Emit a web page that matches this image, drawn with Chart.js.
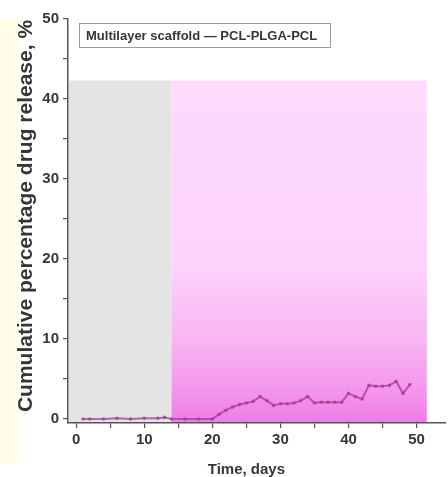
<!DOCTYPE html>
<html>
<head>
<meta charset="utf-8">
<title>Cumulative drug release</title>
<script src="https://cdn.jsdelivr.net/npm/chart.js@4.4.1/dist/chart.umd.min.js"></script>
<style>
  html, body { margin: 0; padding: 0; background: #ffffff; }
  #wrap { position: relative; width: 448px; height: 477px; }
  #strip { position: absolute; left: 0; top: 18px; width: 18px; height: 445px; background: #fffee9; }
  canvas { position: absolute; left: 0; top: 0; }
</style>
</head>
<body>
<div id="wrap">
  <div id="strip"></div>
  <canvas id="chart" width="448" height="477"></canvas>
</div>
<script>
// Release measurements (day, cumulative %)
const days = [1, 2, 4, 6, 8, 10, 12, 13, 14, 16, 18, 20, 21, 22, 23, 24, 25, 26, 27, 28, 29, 30,
              31, 32, 33, 34, 35, 36, 37, 38, 39, 40, 41, 42, 43, 44, 45, 46, 47, 48, 49];
const release = [0.0, 0.0, 0.0, 0.1, 0.0, 0.1, 0.1, 0.2, 0.0, 0.0, 0.0, 0.0, 0.6, 1.1, 1.5, 1.8, 2.0, 2.2, 2.8, 2.3, 1.7, 1.9,
                 1.9, 2.0, 2.3, 2.8, 2.0, 2.1, 2.1, 2.1, 2.1, 3.2, 2.8, 2.5, 4.2, 4.1, 4.1, 4.2, 4.7, 3.2, 4.3];
const seriesLabel = 'Multilayer scaffold \u2014 PCL-PLGA-PCL';

// Phase shading: first phase ends at day 14, second ends at day 51.5; both reach 42.3 %
const phaseBounds = [14, 51.5];
const phaseTop = 42.3;

// Axis ticks and titles
const xTicks = [0, 10, 20, 30, 40, 50];
const yTicks = [0, 10, 20, 30, 40, 50];
const xTitle = 'Time, days';
const yTitle = 'Cumulative percentage drug release, %';

const FONT = '"Liberation Sans", Arial, sans-serif';
const NARROW = '"Liberation Sans Narrow", "Liberation Sans", Arial, sans-serif';
const AXIS = '#555555';
const TEXT = '#363636';

function keepTicks(major) {
  const lo = major[0], hi = major[major.length - 1];
  return function (scale) {
    const out = [];
    for (let v = lo; v <= hi; v += 5) out.push({ value: v });
    scale.ticks = out;
  };
}

const phasePlugin = {
  id: 'phases',
  beforeDatasetsDraw(chart) {
    const { ctx, chartArea, scales } = chart;
    const xs = scales.x, ys = scales.y;
    const xa = chartArea.left + 1;
    const xb = xs.getPixelForValue(phaseBounds[0]);
    const xc = xs.getPixelForValue(phaseBounds[1]);
    const yt = ys.getPixelForValue(phaseTop);
    const yb = chartArea.bottom - 1;
    ctx.save();
    ctx.fillStyle = '#e4e4e4';
    ctx.fillRect(xa, yt, xb - xa, yb - yt);
    const g = ctx.createLinearGradient(0, yt, 0, yb);
    g.addColorStop(0, '#fddafd');
    g.addColorStop(0.55, '#fcd2fb');
    g.addColorStop(0.75, '#f8b6f3');
    g.addColorStop(0.9, '#f498ec');
    g.addColorStop(1, '#ee7ce6');
    ctx.fillStyle = g;
    ctx.fillRect(xb, yt, xc - xb, yb - yt);
    ctx.restore();
  },
  afterDraw(chart) {
    const { ctx, chartArea, scales } = chart;
    ctx.save();
    // legend box
    const lx = chartArea.left + 11, ly = chartArea.top + 4, lw = 251, lh = 24;
    ctx.fillStyle = '#ffffff';
    ctx.fillRect(lx, ly, lw, lh);
    ctx.strokeStyle = '#9a9a9a';
    ctx.lineWidth = 1;
    ctx.strokeRect(lx + 0.5, ly + 0.5, lw, lh);
    ctx.fillStyle = TEXT;
    ctx.font = 'bold 13px ' + FONT;
    ctx.textBaseline = 'middle';
    ctx.textAlign = 'left';
    ctx.fillText(seriesLabel, lx + 7, ly + lh / 2 + 1);
    // x axis title, centred over the labelled range
    const xs = scales.x, ys = scales.y;
    const cx = (xs.getPixelForValue(xTicks[0]) + xs.getPixelForValue(xTicks[xTicks.length - 1])) / 2;
    ctx.font = 'bold 15px ' + FONT;
    ctx.textAlign = 'center';
    ctx.textBaseline = 'alphabetic';
    ctx.fillText(xTitle, cx, 474);
    // y axis title, centred over the labelled range
    const cy = (ys.getPixelForValue(yTicks[0]) + ys.getPixelForValue(yTicks[yTicks.length - 1])) / 2 - 3;
    ctx.translate(25, cy);
    ctx.rotate(-Math.PI / 2);
    ctx.font = 'bold 21px ' + FONT;
    ctx.textBaseline = 'middle';
    ctx.fillText(yTitle, 0, 1);
    ctx.restore();
  }
};

new Chart(document.getElementById('chart'), {
  type: 'line',
  data: {
    datasets: [{
      label: seriesLabel,
      data: days.map((d, i) => ({ x: d, y: release[i] })),
      borderColor: 'rgba(168, 58, 152, 0.75)',
      backgroundColor: 'rgba(168, 58, 152, 0.75)',
      borderWidth: 2,
      pointRadius: 0.8,
      pointHoverRadius: 0,
      tension: 0,
      fill: false
    }]
  },
  options: {
    responsive: false,
    animation: false,
    events: [],
    layout: { padding: { top: 19, right: 0, bottom: 0, left: 0 } },
    plugins: {
      legend: { display: false },
      tooltip: { enabled: false }
    },
    scales: {
      x: {
        type: 'linear',
        min: -1.2,
        max: 54.2,
        afterBuildTicks: keepTicks(xTicks),
        afterFit(scale) { scale.height = 54; },
        ticks: {
          autoSkip: false,
          maxRotation: 0,
          padding: 3,
          color: TEXT,
          font: { family: NARROW, size: 15, weight: 'bold' },
          callback: v => (xTicks.includes(v) ? String(v) : '')
        },
        grid: { drawOnChartArea: false, drawTicks: true, tickLength: 5, color: AXIS, lineWidth: 1.2 },
        border: { color: AXIS, width: 1.5 }
      },
      y: {
        type: 'linear',
        min: -0.5,
        max: 50,
        afterBuildTicks: keepTicks(yTicks),
        afterFit(scale) { scale.width = 68; },
        ticks: {
          autoSkip: false,
          padding: 4,
          color: TEXT,
          font: { family: NARROW, size: 15, weight: 'bold' },
          callback: v => (yTicks.includes(v) ? String(v) : '')
        },
        grid: { drawOnChartArea: false, drawTicks: true, tickLength: 5, color: AXIS, lineWidth: 1.2 },
        border: { color: AXIS, width: 1.5 }
      }
    }
  },
  plugins: [phasePlugin]
});
</script>
</body>
</html>
